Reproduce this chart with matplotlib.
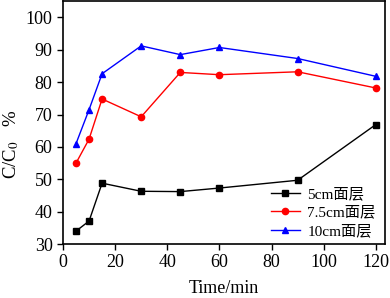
import matplotlib
matplotlib.use('Agg')
import matplotlib.pyplot as plt

# sampling times (min)
time = [5, 10, 15, 30, 45, 60, 90, 120]

# C/C0 (%) for each surface-layer depth
layer_5 = [34.0, 37.1, 48.8, 46.3, 46.2, 47.3, 49.7, 66.9]
layer_7_5 = [55.0, 62.4, 74.8, 69.3, 83.0, 82.3, 83.2, 78.2]
layer_10 = [61.0, 71.5, 82.6, 91.2, 88.5, 90.7, 87.3, 81.8]

labels = ['5cm面层', '7.5cm面层', '10cm面层']

plt.rcParams['font.family'] = ['Liberation Serif', 'Noto Sans CJK SC']
plt.rcParams['mathtext.fontset'] = 'stix'

fig = plt.figure(figsize=(3.9, 2.98), dpi=100)
ax = fig.add_axes([0.1615, 0.181, 0.8255, 0.815])

ax.plot(time, layer_5, color='black', marker='s', markersize=4, linewidth=1, label=labels[0])
ax.plot(time, layer_7_5, color='red', marker='o', markersize=4.5, linewidth=1, label=labels[1])
ax.plot(time, layer_10, color='blue', marker='^', markersize=4.5, linewidth=1, label=labels[2])

ax.set_xlim(0, 123.5)
ax.set_ylim(30, 105)
ax.set_xticks([0, 20, 40, 60, 80, 100, 120])
ax.set_yticks([30, 40, 50, 60, 70, 80, 90, 100])
ax.tick_params(direction='out', labelsize=13, length=4, width=1)
for s in ax.spines.values():
    s.set_linewidth(1.2)

ax.set_xlabel('Time/min', fontsize=13)
ax.xaxis.set_label_coords(0.5, -0.148)
ax.set_ylabel('C/C$_0$   %', fontsize=13.5)
ax.yaxis.set_label_coords(-0.13, 0.41)

leg = ax.legend(loc='lower right', frameon=False, fontsize=11, handlelength=1.9,
                labelspacing=0.3, handletextpad=0.5, borderaxespad=0,
                bbox_to_anchor=(0.99, 0.0))

plt.savefig('out.png', dpi=100)
plt.close()
